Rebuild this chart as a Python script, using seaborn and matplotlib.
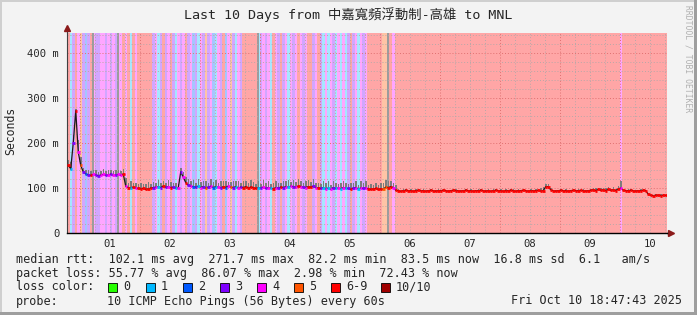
import numpy as np
import pandas as pd
import matplotlib
matplotlib.use("Agg")
import matplotlib.pyplot as plt
import matplotlib.colors as mcolors
from matplotlib.patches import Rectangle
import seaborn as sns

sns.set_style("white")
plt.rcParams["font.family"] = ["DejaVu Sans Mono", "Noto Sans CJK TC"]

# ---------------- data ----------------
title = "Last 10 Days from 中嘉寬頻浮動制-高雄 to MNL"
day_labels = ["01", "02", "03", "04", "05", "06", "07", "08", "09", "10"]
start_clock = 18 + 47 / 60          # window starts Sep 30 18:47, hourly samples

# median rtt (ms), one value per hour
median_d0 = [150, 143, 200, 271.7, 180, 150, 136, 131, 129, 128, 130, 129, 127, 129, 130, 128, 129, 131, 128, 129, 130, 128, 131, 104]
median_d1 = [101, 100, 102, 100, 99, 98, 99, 97, 98, 100, 101, 102, 103, 101, 104, 102, 103, 101, 102, 100, 100, 136, 124, 112]
median_d2 = [106, 104, 103, 102, 104, 101, 103, 100, 102, 104, 101, 103, 102, 100, 103, 101, 104, 102, 101, 103, 100, 102, 101, 103]
median_d3 = [100, 102, 101, 99, 101, 100, 102, 99, 101, 100, 98, 101, 100, 102, 101, 103, 102, 104, 103, 102, 104, 103, 102, 101]
median_d4 = [103, 102, 104, 101, 100, 99, 101, 98, 100, 97, 101, 99, 100, 98, 101, 100, 99, 97, 100, 101, 98, 100, 99, 100]
median_d5 = [98, 97, 98, 99, 97, 98, 97, 102, 101, 103, 101, 95, 94, 93, 94, 95, 94, 94, 93, 94, 95, 94, 94, 93]
median_d6 = [94, 95, 94, 93, 94, 94, 95, 94, 93, 94, 95, 94, 94, 93, 94, 95, 94, 94, 93, 94, 94, 95, 94, 93]
median_d7 = [94, 93, 94, 95, 94, 94, 93, 94, 94, 95, 94, 93, 94, 94, 95, 94, 93, 94, 94, 94, 95, 93, 94, 103]
median_d8 = [103, 96, 94, 93, 94, 95, 94, 94, 93, 94, 95, 94, 94, 95, 94, 93, 94, 95, 96, 94, 97, 95, 96, 94]
median_d9 = [97, 95, 96, 94, 98, 100, 95, 94, 94, 95, 94, 93, 94, 94, 95, 94, 86, 84, 83, 84, 84, 83, 84, 83.5]

# loss class per hour (index into loss_names; 6 = "6-9")
loss_days = [
    "613645 323643 344343 434464",
    "616466 666634 136346 314346",
    "342314 353421 436245 314366",
    "666613 434164 363414 346434",
    "663463 141431 414136 341434",
    "666666 556646 666666 666666",
    "666666 666666 666666 666666",
    "666666 666666 666666 666666",
    "666666 666666 666666 666666",
    "666664 666666 666666 666666",
]
# smoke spread above / below the median, units of 3 ms per hour
smoke_up_days = [
    "456196 334334 334343 343346",
    "353434 345343 534354 343344",
    "545354 453545 354534 545354",
    "454353 545345 435453 545435",
    "545343 545354 345435 453545",
    "343434 555434 101101 011010",
    "010110 101011 010101 101101",
    "101101 010110 101011 010232",
    "210101 011010 101101 121212",
    "212125 101101 011010 010110",
]
smoke_dn_days = [
    "222222 111211 121112 111212",
    "212121 112121 211212 121222",
    "212121 121212 112121 212112",
    "121212 211212 121121 212121",
    "212121 121212 211212 121212",
    "121212 211121 010101 101010",
    "010101 010101 101010 010101",
    "101010 101010 010101 101011",
    "101010 010101 101010 111111",
    "111111 101010 010101 010101",
]
smoke_spike_hours = [10, 20, 76, 128]

loss_names = ["0", "1", "2", "3", "4", "5", "6-9", "10/10"]
loss_colors = ["#26ff00", "#00b8ff", "#0059ff", "#7e00ff", "#ff00ff", "#ff5500", "#ff0000", "#a00000"]

stats_line1 = "median rtt:  102.1 ms avg  271.7 ms max  82.2 ms min  83.5 ms now  16.8 ms sd  6.1   am/s"
stats_line2 = "packet loss: 55.77 % avg  86.07 % max  2.98 % min  72.43 % now"
probe_text = ["probe:", "10 ICMP Echo Pings (56 Bytes) every 60s"]
date_text = "Fri Oct 10 18:47:43 2025"

# ---------------- assemble ----------------
median = np.array(median_d0 + median_d1 + median_d2 + median_d3 + median_d4 +
                  median_d5 + median_d6 + median_d7 + median_d8 + median_d9, dtype=float)
def digits(days):
    return np.array([int(c) for c in "".join(days).replace(" ", "")])
loss = digits(loss_days)
sm_up = digits(smoke_up_days) * 3.0
sm_dn = digits(smoke_dn_days) * 1.0
n = len(median)
hours = np.arange(n)
first_midnight = 24 - start_clock

W, H = 697, 315
YTOP = 444.4

def blend(c, a=0.35):
    r = np.array(mcolors.to_rgb(c))
    return tuple(r * a + (1 - a))

fig = plt.figure(figsize=(W / 100, H / 100), dpi=100, facecolor="#f3f3f3")
ax = fig.add_axes([67 / W, 82 / H, 600 / W, 200 / H])
ax.set_facecolor("white")
ax.set_xlim(0, n)
ax.set_ylim(0, YTOP)

# loss background stripes
ax.bar(hours, YTOP, width=1, align="edge", color=[blend(loss_colors[k]) for k in loss],
       linewidth=0, zorder=1)
ax.bar(smoke_spike_hours, YTOP, width=0.6, align="edge", color="#9c9c9c", linewidth=0, zorder=1.2)

# grid
dot = (0, (1, 2))
for v in np.arange(20, YTOP, 20):
    major = (round(v) % 100 == 0)
    ax.axhline(v, color="#e07070" if major else "#b8a8a8", ls=dot, lw=0.7, zorder=1.5)
for t in np.arange(first_midnight % 6, n, 6):
    major = abs(((t - first_midnight) / 24) - round((t - first_midnight) / 24)) < 1e-6
    ax.axvline(t, color="#e07070" if major else "#b8a8a8", ls=dot, lw=0.7, zorder=1.5)

# smoke (thin comb of gray ticks)
ax.bar(hours + 0.3, sm_up + sm_dn, bottom=median - sm_dn, width=0.5, align="edge",
       color="#7c7c7c", linewidth=0, zorder=2)

# median line
df = pd.DataFrame({"hour": hours + 0.5, "median": median})
sns.lineplot(data=df, x="hour", y="median", color="#1a1a1a", lw=0.9, ax=ax, zorder=3)
ax.hlines(median, hours, hours + 1, colors=[loss_colors[k] for k in loss], lw=2.0, zorder=4)

# axes / ticks
for s in ["top", "right"]:
    ax.spines[s].set_visible(False)
ax.spines["bottom"].set_color("black")
ax.spines["bottom"].set_linewidth(1.0)
ax.spines["left"].set_color("#404040")
ax.spines["left"].set_linewidth(0.8)
ax.set_yticks([0, 100, 200, 300, 400])
ax.set_yticklabels(["0", "100 m", "200 m", "300 m", "400 m"])
ax.set_xticks(first_midnight + 12 + 24 * np.arange(len(day_labels)))
ax.set_xticklabels(day_labels)
ax.set_xticks(np.arange(first_midnight, n, 24), minor=True)
ax.tick_params(axis="y", length=3, width=0.6, pad=2.5, labelsize=7.6, color="#404040")
ax.tick_params(axis="x", which="major", length=0, pad=4.5, labelsize=7.6)
ax.tick_params(axis="x", which="minor", length=3, width=0.6, color="#404040")
ax.set_xlabel("")
ax.set_ylabel("")

# axis arrows
ax.plot([0, 0], [1.0, 1.02], transform=ax.transAxes, color="#404040", lw=0.8, clip_on=False)
ax.plot([0], [1.025], marker="^", ms=5, color="#8b1a1a", transform=ax.transAxes, clip_on=False)
ax.plot([1.0, 1.005], [0, 0], transform=ax.transAxes, color="black", lw=1.0, clip_on=False)
ax.plot([1.007], [0], marker=">", ms=5, color="#8b1a1a", transform=ax.transAxes, clip_on=False)

def fx(x):
    return x / W
def fy(y):
    return 1 - y / H

fig.text(fx(348.5), fy(15), title, ha="center", va="center", fontsize=9.6)
fig.text(fx(11), fy(131), "Seconds", rotation=90, ha="center", va="center", fontsize=8.3)
fig.text(fx(688), fy(59), "RRDTOOL / TOBI OETIKER", rotation=270, ha="center", va="center",
         fontsize=5.8, color="#b0b0b0")

FS = 8.5
fig.text(fx(16), fy(260), stats_line1, ha="left", va="center", fontsize=FS)
fig.text(fx(16), fy(273), stats_line2, ha="left", va="center", fontsize=FS)
fig.text(fx(16), fy(287), "loss color:", ha="left", va="center", fontsize=FS)
box_x = [108, 146, 183, 220, 257, 294, 331, 381]
for name, col, bx in zip(loss_names, loss_colors, box_x):
    fig.add_artist(Rectangle((fx(bx), fy(291.5)), 9 / W, 8.5 / H, transform=fig.transFigure,
                             facecolor=col, edgecolor="black", lw=0.6))
    fig.text(fx(bx + 15), fy(287), name, ha="left", va="center", fontsize=FS)
fig.text(fx(16), fy(301), probe_text[0], ha="left", va="center", fontsize=FS)
fig.text(fx(107), fy(301), probe_text[1], ha="left", va="center", fontsize=FS)
fig.text(fx(682), fy(301), date_text, ha="right", va="center", fontsize=FS)

# 3D frame
fig.add_artist(Rectangle((0, 1 - 2 / H), 1, 2 / H, transform=fig.transFigure, color="#cfcfcf", lw=0))
fig.add_artist(Rectangle((0, 0), 2 / W, 1, transform=fig.transFigure, color="#cfcfcf", lw=0))
fig.add_artist(Rectangle((0, 0), 1, 3 / H, transform=fig.transFigure, color="#9e9e9e", lw=0))
fig.add_artist(Rectangle((1 - 3 / W, 0), 3 / W, 1, transform=fig.transFigure, color="#9e9e9e", lw=0))

fig.savefig("out.png", dpi=100, facecolor=fig.get_facecolor())
